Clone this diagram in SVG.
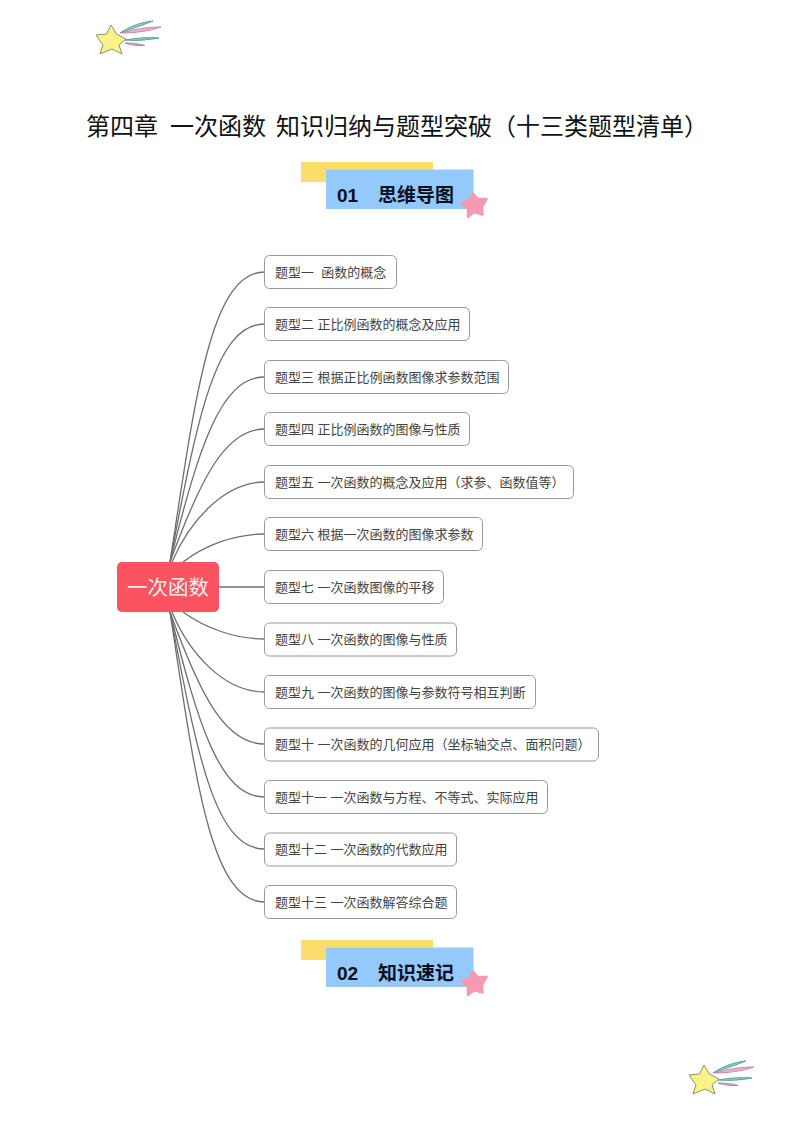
<svg xmlns="http://www.w3.org/2000/svg" width="794" height="1122" viewBox="0 0 794 1122">
<style>
text{font-family:"Liberation Sans","Noto Sans CJK SC",sans-serif}
.n rect{fill:#fff;stroke:#999;stroke-width:1}
.n text{font-size:13px;fill:#444}
#connectors path{fill:none;stroke:#6e6e6e;stroke-width:1.3}
.h{font-size:19px;font-weight:700;fill:#0a0f20}
.t{font-size:24px;fill:#111}
</style>
<defs>
<g id="shoot">
<path d="M111 25 116.500 34 126 39 119 45 122 54 112 49 100 54 103 45 96 35 106.500 34Z" fill="#fbf28a" stroke="#8b9464" stroke-width="1"/>
<path d="M120 33C130 26 142 22 153 21C143 25 131 29 120 33Z" fill="#8fd0c6" stroke="#5aa39c" stroke-width="1"/>
<path d="M122 33C135 29 149 27 161 27C149 31 135 33 122 33Z" fill="#eeb4cd" stroke="#c48aa8" stroke-width="1"/>
<path d="M125 40C137 38 148 37 159 38C148 40 137 41 125 40Z" fill="#8fd0c6" stroke="#5aa39c" stroke-width="1"/>
<path d="M125 43C133 43 141 44 145 45.500C138 46 130 45 125 43Z" fill="#eeb4cd" stroke="#a88ba8" stroke-width="1"/>
</g>
<g id="banner">
<rect x="301" y="162" width="132" height="20" fill="#fcdc6b"/>
<rect x="326" y="169.500" width="147.500" height="39.500" fill="#94c9fb"/>
<path d="M473 193.500 477.500 199 486.500 199 482 206.500 482.500 214.500 474 212 468 217 468 208.500 461.500 203 469.500 200.500Z" fill="#f59ab0" stroke="#f59ab0" stroke-width="2.500" stroke-linejoin="round"/>
</g>
</defs>
<use href="#shoot"/>
<use href="#shoot" transform="translate(593 1040)"/>
<text class="t" x="86" y="135">第四章</text>
<text class="t" x="170" y="135">一次函数</text>
<text class="t" x="276" y="135">知识归纳与题型突破（十三类题型清单）</text>
<use href="#banner"/>
<text class="h" x="337" y="201.500">01</text><text class="h" x="378" y="201.500">思维导图</text>
<use href="#banner" transform="translate(0 778)"/>
<text class="h" x="337" y="979.500">02</text><text class="h" x="378" y="979.500">知识速记</text>
<g id="connectors">
<path d="M170 562C195 400 210 272 264.500 272"/>
<path d="M170 562C197 420 215 324 264.500 324"/>
<path d="M170 562C198 450 220 377 264.500 377"/>
<path d="M170 562C200 480 225 429 264.500 429"/>
<path d="M172 562C190 520 225 482 264.500 482"/>
<path d="M183 562C205 545 235 534 264.500 534"/>
<path d="M219 587H264.500"/>
<path d="M183 612C205 628 235 639 264.500 639"/>
<path d="M172 612C190 655 225 692 264.500 692"/>
<path d="M170 612C200 695 225 744 264.500 744"/>
<path d="M170 612C198 725 220 797 264.500 797"/>
<path d="M170 612C197 755 215 849 264.500 849"/>
<path d="M170 612C195 775 210 902 264.500 902"/>
</g>
<g id="root"><rect x="117" y="562" width="102" height="50" rx="5" fill="#fb5360"/><text x="168" y="594.500" font-size="20.500" fill="#f8eeee" text-anchor="middle">一次函数</text></g>
<g id="n1" class="n"><rect x="264.500" y="255.500" width="132" height="33" rx="5"/><text x="275" y="277">题型一&#160;&#160;函数的概念</text></g>
<g id="n2" class="n"><rect x="264.500" y="307.500" width="205" height="33" rx="5"/><text x="275" y="329">题型二 正比例函数的概念及应用</text></g>
<g id="n3" class="n"><rect x="264.500" y="360.500" width="244" height="33" rx="5"/><text x="275" y="382">题型三 根据正比例函数图像求参数范围</text></g>
<g id="n4" class="n"><rect x="264.500" y="412.500" width="205" height="33" rx="5"/><text x="275" y="434">题型四 正比例函数的图像与性质</text></g>
<g id="n5" class="n"><rect x="264.500" y="465.500" width="309" height="33" rx="5"/><text x="275" y="487">题型五 一次函数的概念及应用（求参、函数值等）</text></g>
<g id="n6" class="n"><rect x="264.500" y="517.500" width="218" height="33" rx="5"/><text x="275" y="539">题型六 根据一次函数的图像求参数</text></g>
<g id="n7" class="n"><rect x="264.500" y="570.500" width="179" height="33" rx="5"/><text x="275" y="592">题型七 一次函数图像的平移</text></g>
<g id="n8" class="n"><rect x="264.500" y="623" width="192" height="33" rx="5"/><text x="275" y="644">题型八 一次函数的图像与性质</text></g>
<g id="n9" class="n"><rect x="264.500" y="675.500" width="271" height="33" rx="5"/><text x="275" y="697">题型九 一次函数的图像与参数符号相互判断</text></g>
<g id="n10" class="n"><rect x="264.500" y="728" width="334" height="33" rx="5"/><text x="275" y="749">题型十 一次函数的几何应用（坐标轴交点、面积问题）</text></g>
<g id="n11" class="n"><rect x="264.500" y="780.500" width="283" height="33" rx="5"/><text x="275" y="802">题型十一 一次函数与方程、不等式、实际应用</text></g>
<g id="n12" class="n"><rect x="264.500" y="833" width="192" height="33" rx="5"/><text x="275" y="854">题型十二 一次函数的代数应用</text></g>
<g id="n13" class="n"><rect x="264.500" y="885.500" width="192" height="33" rx="5"/><text x="275" y="907">题型十三 一次函数解答综合题</text></g>
</svg>
